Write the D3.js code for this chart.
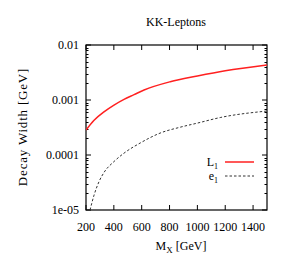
<!DOCTYPE html>
<html><head><meta charset="utf-8">
<script src="https://cdn.jsdelivr.net/npm/d3@7"></script>
<style>body{margin:0;background:#fff}svg{display:block}text{font-family:"Liberation Serif","DejaVu Serif",serif;fill:#000}</style>
</head><body><svg id="c" width="284" height="273"></svg>
<script>
const title = "KK-Leptons";
const xLabel = "M";
const yLabel = "Decay Width [GeV]";
const xTicks = [200,400,600,800,1000,1200,1400];
const yTicks = [1e-5,1e-4,1e-3,1e-2];
const yTickLabels = ["1e-05","0.0001","0.001","0.01"];
const seriesNames = ["L1","e1"];
const massL = [200,258,329,401,473,545,617,805,1000,1200,1500];
const widthL = [2.85e-4,4.3e-4,6.1e-4,8.1e-4,1.03e-3,1.25e-3,1.52e-3,2.15e-3,2.73e-3,3.4e-3,4.33e-3];
const massE = [229,258,294,329,401,473,589,732,876,1000,1164,1500];
const widthE = [1.0e-5,1.87e-5,3.3e-5,4.8e-5,7.6e-5,1.08e-4,1.65e-4,2.5e-4,3.2e-4,3.8e-4,4.8e-4,6.3e-4];

const svg = d3.select("#c");
const L=86,R=267,T=45,B=210;
const x = d3.scaleLinear().domain([200,1500]).range([L,R]);
const y = d3.scaleLog().domain([1e-5,1e-2]).range([B,T]);

const minor=[];
for(let d=1e-5; d<1e-2*0.99; d*=10){ for(let k=2;k<=9;k++) minor.push(d*k); }
const g=svg.append("g").attr("stroke","#000").attr("stroke-width",1);
minor.forEach(v=>{
  g.append("line").attr("x1",L).attr("x2",L+2.5).attr("y1",Math.round(y(v))+0.5).attr("y2",Math.round(y(v))+0.5);
  g.append("line").attr("x1",R).attr("x2",R-2.5).attr("y1",Math.round(y(v))+0.5).attr("y2",Math.round(y(v))+0.5);
});
yTicks.forEach(v=>{
  g.append("line").attr("x1",L).attr("x2",L+5).attr("y1",y(v)).attr("y2",y(v));
  g.append("line").attr("x1",R).attr("x2",R-5).attr("y1",y(v)).attr("y2",y(v));
});
xTicks.forEach(v=>{
  g.append("line").attr("x1",x(v)).attr("x2",x(v)).attr("y1",B).attr("y2",B-5);
  g.append("line").attr("x1",x(v)).attr("x2",x(v)).attr("y1",T).attr("y2",T+5);
});
svg.append("rect").attr("x",L).attr("y",T).attr("width",R-L).attr("height",B-T)
  .attr("fill","none").attr("stroke","#000").attr("stroke-width",1.2);

yTicks.forEach((v,i)=>{
  svg.append("text").attr("x",L-7).attr("y",y(v)+4).attr("text-anchor","end").attr("font-size",12).text(yTickLabels[i]);
});
xTicks.forEach(v=>{
  svg.append("text").attr("x",x(v)).attr("y",B+21).attr("text-anchor","middle").attr("font-size",12).text(v);
});

svg.append("text").attr("x",176).attr("y",26).attr("text-anchor","middle").attr("font-size",12).text(title);
const xl=svg.append("text").attr("x",181).attr("y",250).attr("text-anchor","middle").attr("font-size",12);
xl.append("tspan").text(xLabel);
xl.append("tspan").attr("font-size",9).attr("dy",3).text("X");
xl.append("tspan").attr("dy",-3).text(" [GeV]");
svg.append("text").attr("transform","translate(27,127) rotate(-90)").attr("text-anchor","middle")
  .attr("font-size",13).attr("letter-spacing",0.8).text(yLabel);

svg.append("clipPath").attr("id","cp").append("rect").attr("x",L).attr("y",T).attr("width",R-L).attr("height",B-T);
const line=d3.line().x(d=>x(d[0])).y(d=>y(d[1])).curve(d3.curveMonotoneX);
svg.append("path").attr("clip-path","url(#cp)").attr("d",line(massL.map((m,i)=>[m,widthL[i]])))
  .attr("fill","none").attr("stroke","#ff2020").attr("stroke-width",1.5);
svg.append("path").attr("clip-path","url(#cp)").attr("d",line(massE.map((m,i)=>[m,widthE[i]])))
  .attr("fill","none").attr("stroke","#333").attr("stroke-width",1).attr("stroke-dasharray","2.5,2");

const leg=[{n:"L",s:"1",y:162,c:"#ff2020",w:1.5,da:null},{n:"e",s:"1",y:176,c:"#333",w:1,da:"2.5,2"}];
leg.forEach(d=>{
  const t=svg.append("text").attr("x",218).attr("y",d.y+4).attr("text-anchor","end").attr("font-size",12);
  t.append("tspan").text(d.n);
  t.append("tspan").attr("font-size",8).attr("dy",3).text(d.s);
  svg.append("line").attr("x1",225).attr("x2",254).attr("y1",d.y).attr("y2",d.y)
    .attr("stroke",d.c).attr("stroke-width",d.w).attr("stroke-dasharray",d.da);
});
</script></body></html>
